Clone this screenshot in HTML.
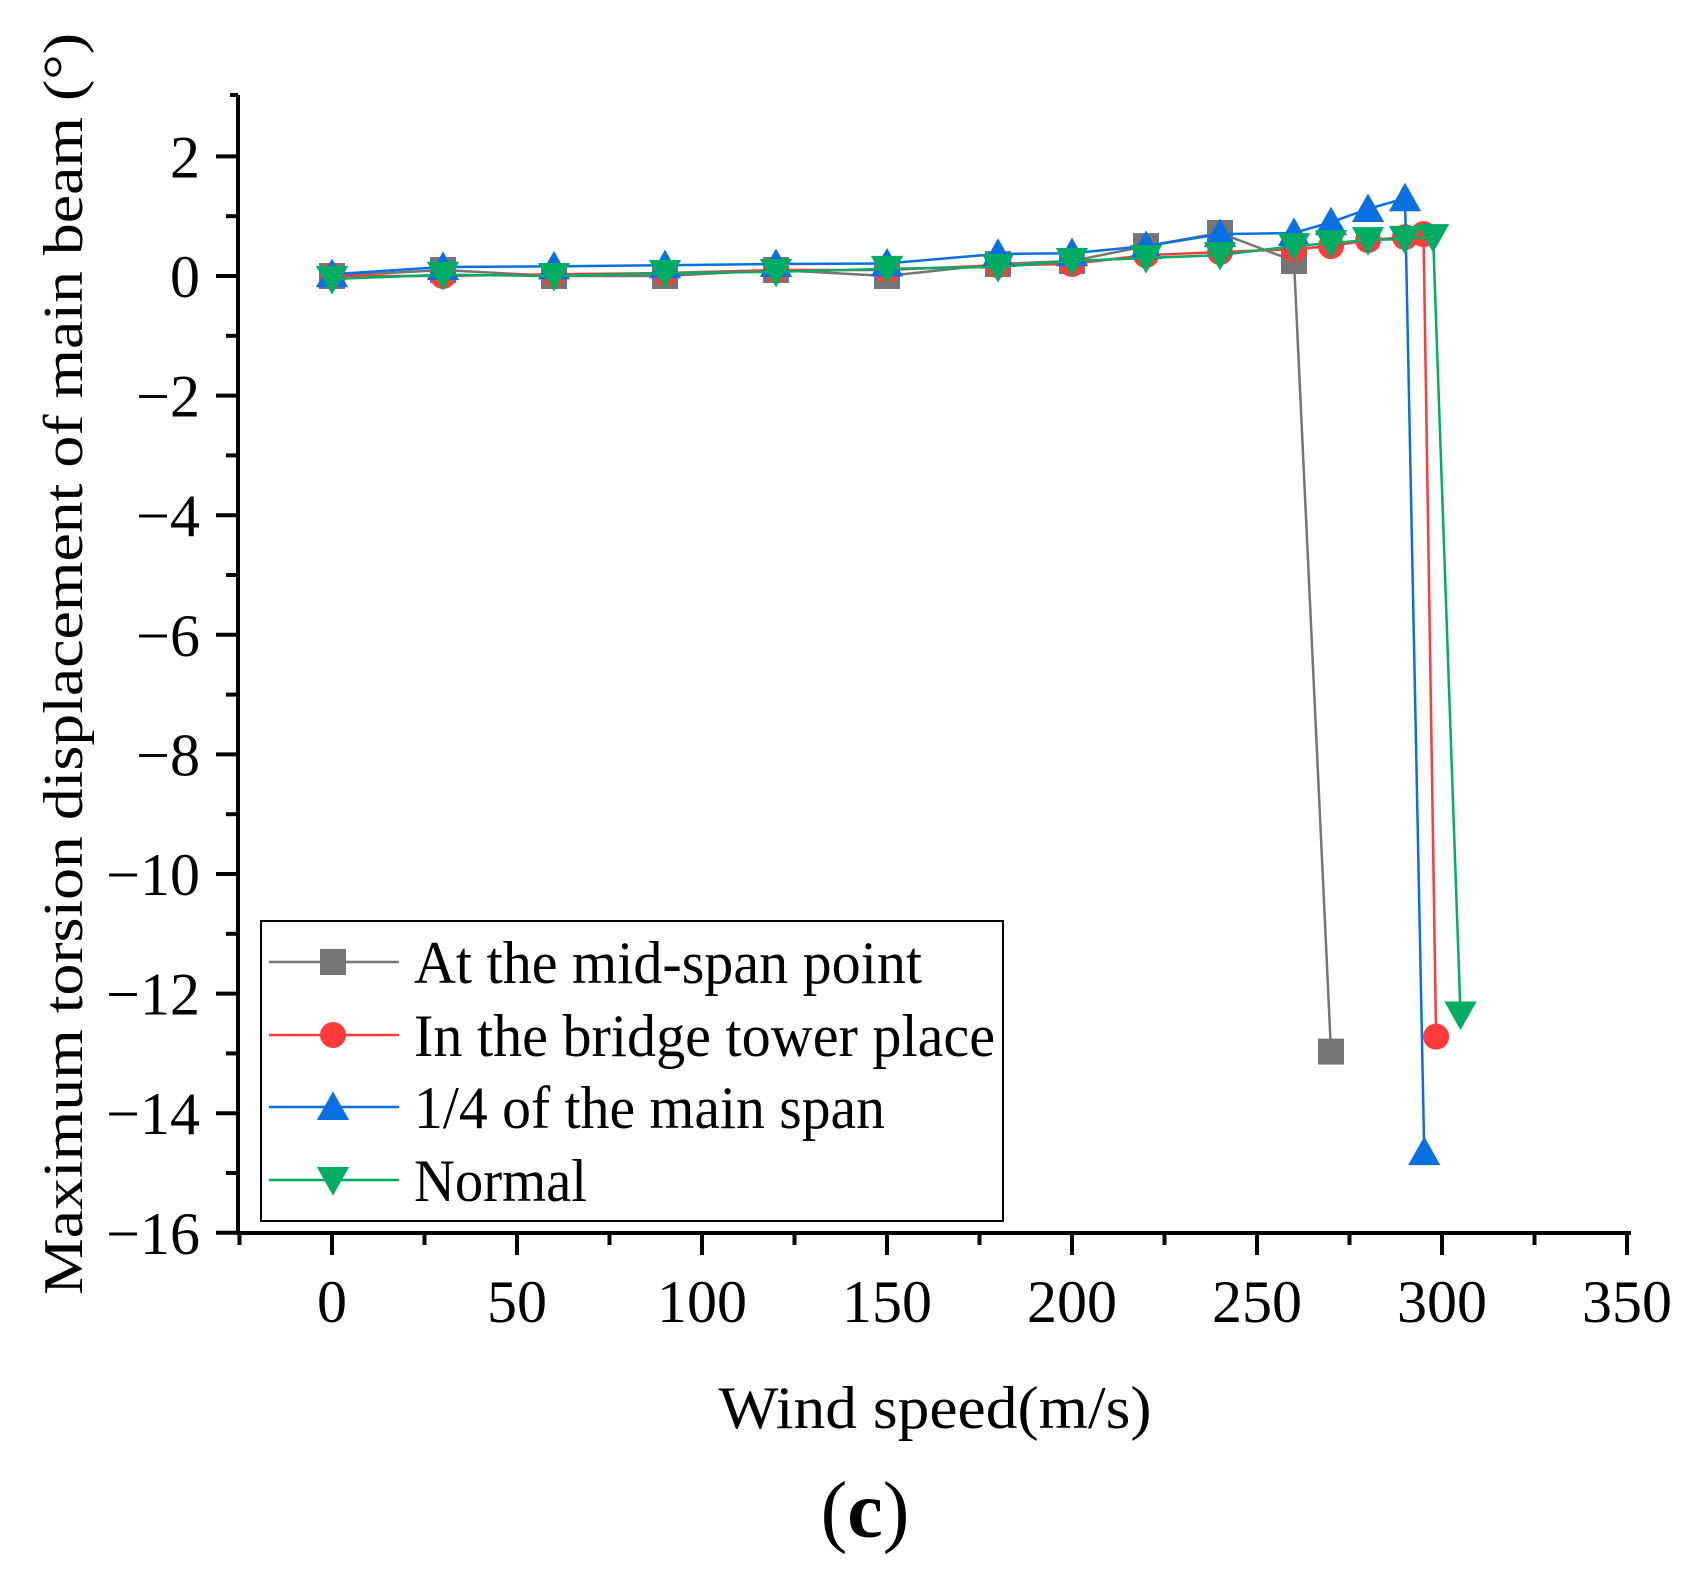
<!DOCTYPE html>
<html><head><meta charset="utf-8"><style>
html,body{margin:0;padding:0;background:#fff;}
svg text{font-family:"Liberation Serif",serif;fill:#000;}
</style></head><body>
<svg id="chart" width="1694" height="1576" viewBox="0 0 1694 1576" xmlns="http://www.w3.org/2000/svg">
<g id="axes"></g>
<g id="series"></g>
<text transform="translate(82,664) rotate(-90)" text-anchor="middle" font-size="56" textLength="1262" lengthAdjust="spacingAndGlyphs">Maximum torsion displacement of main beam (°)</text>
<text x="935" y="1428" text-anchor="middle" font-size="60" textLength="433" lengthAdjust="spacingAndGlyphs">Wind speed(m/s)</text>
<text x="865" y="1537" text-anchor="middle" font-size="80">(<tspan font-weight="bold">c</tspan>)</text>
<g id="legend">
<rect x="261" y="921" width="742" height="300" fill="#fff" stroke="#000" stroke-width="2"/>
</g>
</svg>
<script>
const xTicks = [0, 50, 100, 150, 200, 250, 300, 350];
const yTicks = [2, 0, -2, -4, -6, -8, -10, -12, -14, -16];
const seriesNames = ["At the mid-span point", "In the bridge tower place", "1/4 of the main span", "Normal"];
const midX = [0, 30, 60, 90, 120, 150, 180, 200, 220, 240, 260, 270];
const midY = [0, 0.1, 0, 0, 0.1, 0, 0.2, 0.25, 0.5, 0.72, 0.25, -12.97];
const towerX = [0, 30, 60, 90, 120, 150, 180, 200, 220, 240, 260, 270, 280, 290, 295, 298.4];
const towerY = [0, 0, 0.03, 0.05, 0.1, 0.1, 0.18, 0.2, 0.35, 0.4, 0.45, 0.5, 0.6, 0.65, 0.7, -12.72];
const quarterX = [0, 30, 60, 90, 120, 150, 180, 200, 220, 240, 260, 270, 280, 290, 295.2];
const quarterY = [0.03, 0.15, 0.16, 0.18, 0.2, 0.21, 0.37, 0.38, 0.5, 0.7, 0.72, 0.9, 1.12, 1.3, -14.65];
const normalX = [0, 30, 60, 90, 120, 150, 180, 200, 220, 240, 260, 270, 280, 290, 297.6, 305];
const normalY = [-0.05, 0.02, 0, 0.05, 0.07, 0.12, 0.15, 0.25, 0.3, 0.35, 0.5, 0.55, 0.6, 0.62, 0.65, -12.35];

const NS = "http://www.w3.org/2000/svg";
const X0 = 332, XS = 3.7, Y0 = 276, YS = 59.8;
function sx(v){ return X0 + v * XS; }
function sy(v){ return Y0 - v * YS; }
function mk(tag, attrs, parent){
  const e = document.createElementNS(NS, tag);
  for (const k in attrs) e.setAttribute(k, attrs[k]);
  parent.appendChild(e);
  return e;
}
const axes = document.getElementById("axes");
const axL = 238, axB = 1233, axT = 95, axR = 1631;
let e;
e = mk("line", {x1: axL, y1: axT, x2: axL, y2: axB + 2, stroke: "#000", "stroke-width": 4}, axes);


e = mk("line", {x1: axL - 2, y1: axB, x2: axR, y2: axB, stroke: "#000", "stroke-width": 4}, axes);


mk("line", {x1: axL - 8, y1: axT, x2: axL, y2: axT, stroke: "#000", "stroke-width": 4}, axes);
xTicks.forEach(function(v){
  const x = sx(v);
  mk("line", {x1: x, y1: axB, x2: x, y2: axB + 22, stroke: "#000", "stroke-width": 4}, axes);
  const t = mk("text", {x: x, y: 1322, "text-anchor": "middle", "font-size": 60}, axes);
  t.textContent = v;
  
  
  if (v < 350) {
    const xm = sx(v + 25);
    mk("line", {x1: xm, y1: axB, x2: xm, y2: axB + 12, stroke: "#000", "stroke-width": 4}, axes);
  }
});
mk("line", {x1: sx(-25), y1: axB, x2: sx(-25), y2: axB + 12, stroke: "#000", "stroke-width": 4}, axes);
yTicks.forEach(function(v){
  const y = sy(v);
  mk("line", {x1: axL - 22, y1: y, x2: axL, y2: y, stroke: "#000", "stroke-width": 4}, axes);
  const t = mk("text", {x: 200, y: y + 21, "text-anchor": "end", "font-size": 60}, axes);
  t.textContent = v < 0 ? "\u2212" + Math.abs(v) : String(v);
  
  
  if (v > -16) {
    const ym = sy(v - 1);
    mk("line", {x1: axL - 12, y1: ym, x2: axL, y2: ym, stroke: "#000", "stroke-width": 4}, axes);
  }
});

const colors = ["#757575", "#ff3b3b", "#0a6fe0", "#00ad62"];
const shapes = ["square", "circle", "up", "down"];
function marker(g, shape, cx, cy, color, s){
  if (shape === "square") return mk("rect", {x: cx - s/2, y: cy - s/2, width: s, height: s, fill: color}, g);
  if (shape === "circle") return mk("circle", {cx: cx, cy: cy, r: s/2, fill: color}, g);
  if (shape === "up") return mk("polygon", {points: (cx)+","+(cy - s*0.6)+" "+(cx - s*0.62)+","+(cy + s*0.5)+" "+(cx + s*0.62)+","+(cy + s*0.5), fill: color}, g);
  return mk("polygon", {points: (cx)+","+(cy + s*0.6)+" "+(cx - s*0.62)+","+(cy - s*0.5)+" "+(cx + s*0.62)+","+(cy - s*0.5), fill: color}, g);
}
const seriesG = document.getElementById("series");
const allX = [midX, towerX, quarterX, normalX];
const allY = [midY, towerY, quarterY, normalY];
const names = ["mid-span", "bridge-tower", "quarter-span", "normal"];
allX.forEach(function(xs, i){
  const g = mk("g", {}, seriesG);
  
  
  const pts = xs.map(function(x, j){ return sx(x) + "," + sy(allY[i][j]); }).join(" ");
  const pl = mk("polyline", {points: pts, fill: "none", stroke: colors[i], "stroke-width": 2.5}, g);
  
  
  xs.forEach(function(x, j){
    const m = marker(g, shapes[i], sx(x), sy(allY[i][j]), colors[i], 26);
    
    
  });
});
const lg = document.getElementById("legend");
const rowY = [962, 1035, 1107, 1180];
const textLens = [508, 581, 471, 173];
seriesNames.forEach(function(n, i){
  const g = mk("g", {}, lg);
  
  
  mk("line", {x1: 269, y1: rowY[i], x2: 399, y2: rowY[i], stroke: colors[i], "stroke-width": 2.5}, g);
  marker(g, shapes[i], 333, rowY[i], colors[i], 26);
  const t = mk("text", {x: 414, y: rowY[i] + 21, "font-size": 60, textLength: textLens[i], lengthAdjust: "spacingAndGlyphs"}, g);
  t.textContent = n;
  
  
});
</script>
</body></html>
